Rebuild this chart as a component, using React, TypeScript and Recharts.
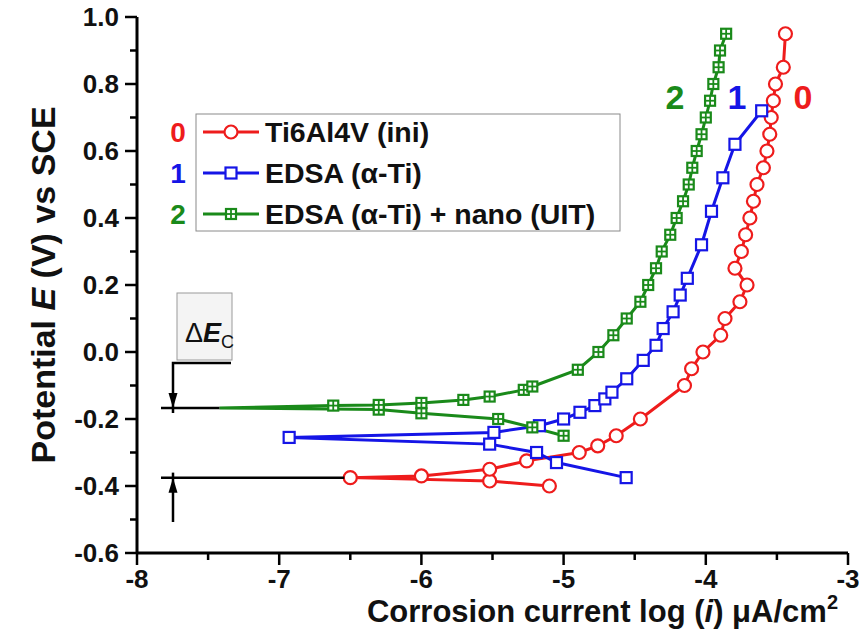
import React from 'react';
import { LineChart, Line, XAxis, YAxis } from 'recharts';

const ti64LogI = [-5.10, -5.52, -6.50, -6.00, -5.52, -5.26, -4.89, -4.76, -4.63, -4.46, -4.15, -4.10, -4.02, -3.895, -3.865, -3.76, -3.71, -3.795, -3.75, -3.72, -3.69, -3.665, -3.64, -3.595, -3.57, -3.55, -3.54, -3.525, -3.51, -3.455, -3.44];
const ti64E = [-0.40, -0.385, -0.375, -0.37, -0.35, -0.325, -0.30, -0.28, -0.25, -0.20, -0.10, -0.05, 0.0, 0.05, 0.10, 0.15, 0.20, 0.25, 0.30, 0.35, 0.40, 0.45, 0.50, 0.55, 0.60, 0.65, 0.70, 0.75, 0.80, 0.85, 0.95];

const edsaLogI = [-4.56, -5.05, -5.19, -5.52, -6.93, -5.49, -5.17, -5.00, -4.885, -4.78, -4.71, -4.66, -4.556, -4.44, -4.35, -4.30, -4.23, -4.18, -4.13, -4.03, -3.96, -3.88, -3.795, -3.607];
const edsaE = [-0.375, -0.33, -0.30, -0.275, -0.255, -0.24, -0.22, -0.20, -0.18, -0.16, -0.14, -0.12, -0.08, -0.025, 0.02, 0.07, 0.12, 0.17, 0.22, 0.32, 0.42, 0.52, 0.62, 0.72];

const nanoLogI = [-5.00, -5.22, -5.46, -6.00, -6.30, -7.42, -6.62, -6.30, -6.00, -5.705, -5.52, -5.28, -5.22, -4.90, -4.755, -4.65, -4.556, -4.46, -4.405, -4.35, -4.31, -4.25, -4.205, -4.16, -4.12, -4.095, -4.064, -4.03, -4.00, -3.97, -3.947, -3.91, -3.90, -3.857];
const nanoE = [-0.25, -0.225, -0.20, -0.183, -0.172, -0.167, -0.16, -0.158, -0.152, -0.143, -0.133, -0.113, -0.103, -0.053, 0.0, 0.05, 0.10, 0.15, 0.20, 0.25, 0.30, 0.35, 0.40, 0.45, 0.50, 0.55, 0.60, 0.65, 0.70, 0.75, 0.80, 0.85, 0.90, 0.95];

const X_TICKS = [-8, -7.5, -7, -6.5, -6, -5.5, -5, -4.5, -4, -3.5, -3];
const Y_TICKS = [-0.6, -0.5, -0.4, -0.3, -0.2, -0.1, 0, 0.1, 0.2, 0.3, 0.4, 0.5, 0.6, 0.7, 0.8, 0.9, 1.0];

const SERIES_NAMES = ['Ti6Al4V (ini)', 'EDSA (α-Ti)', 'EDSA (α-Ti) + nano (UIT)'];
const SERIES_TAGS = ['0', '1', '2'];

const RED = '#ee1c1c';
const BLUE = '#1515e6';
const GREEN = '#1a8a1a';
const FONT = '"Liberation Sans", Arial, sans-serif';

const W = 859;
const H = 640;
const M = { top: 17, right: 11, bottom: 87, left: 137 };
const X_DOMAIN: [number, number] = [-8, -3];
const Y_DOMAIN: [number, number] = [-0.6, 1.0];

const toPoints = (xs: number[], ys: number[]) => xs.map((x, i) => ({ x, y: ys[i] }));
const ti64 = toPoints(ti64LogI, ti64E);
const edsa = toPoints(edsaLogI, edsaE);
const nano = toPoints(nanoLogI, nanoE);

// pixel helpers for the overlay annotations
const px = (x: number) => M.left + ((x - X_DOMAIN[0]) / (X_DOMAIN[1] - X_DOMAIN[0])) * (W - M.left - M.right);
const py = (y: number) => M.top + ((Y_DOMAIN[1] - y) / (Y_DOMAIN[1] - Y_DOMAIN[0])) * (H - M.top - M.bottom);

const Circle = ({ cx, cy, color }: any) => (
  <circle cx={cx} cy={cy} r={6.5} fill="white" stroke={color} strokeWidth={2.2} />
);
const Square = ({ cx, cy, color }: any) => (
  <rect x={cx - 5.5} y={cy - 5.5} width={11} height={11} fill="white" stroke={color} strokeWidth={2.2} />
);
const Grid = ({ cx, cy, color }: any) => (
  <g>
    <rect x={cx - 5} y={cy - 5} width={10} height={10} fill="white" stroke={color} strokeWidth={2.2} />
    <line x1={cx - 5} x2={cx + 5} y1={cy} y2={cy} stroke={color} strokeWidth={1.8} />
    <line x1={cx} x2={cx} y1={cy - 5} y2={cy + 5} stroke={color} strokeWidth={1.8} />
  </g>
);

const XTick = ({ x, y, payload }: any) => {
  const v = payload.value;
  const major = Number.isInteger(v);
  return (
    <g>
      <line x1={x} x2={x} y1={y} y2={y + (major ? 12 : 7)} stroke="#000" strokeWidth={2.5} />
      {major && (
        <text x={x} y={y + 35} textAnchor="middle" fontSize={26} fontWeight="bold" fontFamily={FONT} fill="#111">
          {v}
        </text>
      )}
    </g>
  );
};

const YTick = ({ x, y, payload }: any) => {
  const v = payload.value;
  const major = Math.round(v * 10) % 2 === 0;
  return (
    <g>
      <line x1={x} x2={x - (major ? 12 : 7)} y1={y} y2={y} stroke="#000" strokeWidth={2.5} />
      {major && (
        <text x={x - 18} y={y + 9} textAnchor="end" fontSize={26} fontWeight="bold" fontFamily={FONT} fill="#111">
          {v.toFixed(1)}
        </text>
      )}
    </g>
  );
};

const LEGEND_MARKS = [Circle, Square, Grid];
const COLORS = [RED, BLUE, GREEN];

export default function App() {
  const xEcorr2 = nanoLogI[5];
  const eEcorr2 = nanoE[5];
  const xEcorr0 = ti64LogI[2];
  const eEcorr0 = ti64E[2];
  const arrowX = 173;

  return (
    <div style={{ position: 'relative', width: W, height: H, background: 'white' }}>
      <style>{`body { margin: 0; }`}</style>
      <LineChart width={W} height={H} margin={{ top: M.top, right: M.right, left: 0, bottom: 0 }}>
        <XAxis
          type="number"
          dataKey="x"
          domain={X_DOMAIN}
          ticks={X_TICKS}
          interval={0}
          height={M.bottom}
          tick={<XTick />}
          tickLine={false}
          tickSize={0}
          tickMargin={0}
          axisLine={{ stroke: '#000', strokeWidth: 3 }}
          allowDataOverflow
        />
        <YAxis
          type="number"
          dataKey="y"
          domain={Y_DOMAIN}
          ticks={Y_TICKS}
          interval={0}
          width={M.left}
          tick={<YTick />}
          tickLine={false}
          tickSize={0}
          tickMargin={0}
          axisLine={{ stroke: '#000', strokeWidth: 3 }}
          allowDataOverflow
        />
        <Line
          data={ti64}
          dataKey="y"
          stroke={RED}
          strokeWidth={3}
          isAnimationActive={false}
          dot={(p: any) => <Circle key={p.index} cx={p.cx} cy={p.cy} color={RED} />}
        />
        <Line
          data={edsa}
          dataKey="y"
          stroke={BLUE}
          strokeWidth={3}
          isAnimationActive={false}
          dot={(p: any) => <Square key={p.index} cx={p.cx} cy={p.cy} color={BLUE} />}
        />
        <Line
          data={nano}
          dataKey="y"
          stroke={GREEN}
          strokeWidth={3}
          isAnimationActive={false}
          dot={(p: any) =>
            p.index === 5 ? <g key={p.index} /> : <Grid key={p.index} cx={p.cx} cy={p.cy} color={GREEN} />
          }
        />
      </LineChart>

      <svg width={W} height={H} style={{ position: 'absolute', left: 0, top: 0, pointerEvents: 'none' }}>
        {/* axis titles */}
        <text
          transform={`translate(55, ${285}) rotate(-90)`}
          textAnchor="middle"
          fontSize={34}
          fontWeight="bold"
          fontFamily={FONT}
          fill="#111"
        >
          Potential <tspan fontStyle="italic">E</tspan> (V) vs SCE
        </text>
        <text x={838} y={622} textAnchor="end" fontSize={31} fontWeight="bold" fontFamily={FONT} fill="#111">
          Corrosion current log (<tspan fontStyle="italic">i</tspan>) μA/cm
          <tspan fontSize={20} dy={-13}>2</tspan>
        </text>

        {/* legend */}
        <rect x={196} y={114} width={424} height={117} fill="white" stroke="#8a8a8a" strokeWidth={1} />
        {SERIES_NAMES.map((name, i) => {
          const cy = 132 + i * 41;
          const Mark = LEGEND_MARKS[i];
          return (
            <g key={name}>
              <text x={178} y={cy + 10} textAnchor="middle" fontSize={28} fontWeight="bold" fontFamily={FONT} fill={COLORS[i]}>
                {SERIES_TAGS[i]}
              </text>
              <line x1={203} x2={259} y1={cy} y2={cy} stroke={COLORS[i]} strokeWidth={3} />
              <Mark cx={231} cy={cy} color={COLORS[i]} />
              <text x={265} y={cy + 10} fontSize={28.5} fontWeight="bold" fontFamily={FONT} fill="#111">
                {name}
              </text>
            </g>
          );
        })}

        {/* curve tags */}
        {[
          { t: '2', x: 675, c: GREEN },
          { t: '1', x: 737, c: BLUE },
          { t: '0', x: 803, c: RED },
        ].map((d) => (
          <text key={d.t} x={d.x} y={109} textAnchor="middle" fontSize={34} fontWeight="bold" fontFamily={FONT} fill={d.c}>
            {d.t}
          </text>
        ))}

        {/* delta E_c annotation */}
        <rect x={177} y={293} width={55} height={67} fill="#f4f4f4" stroke="#9a9a9a" strokeWidth={1} />
        <text x={185} y={342} fontSize={27} fontFamily={FONT} fill="#111">
          Δ<tspan fontWeight="bold" fontStyle="italic">E</tspan>
          <tspan fontSize={18} dy={6}>C</tspan>
        </text>
        <polyline points={`231,363 ${arrowX},363 ${arrowX},${py(eEcorr2) + 5}`} fill="none" stroke="#000" strokeWidth={2.5} />
        <polygon
          points={`${arrowX},${py(eEcorr2)} ${arrowX - 4.5},${py(eEcorr2) - 15} ${arrowX + 4.5},${py(eEcorr2) - 15}`}
          fill="#000"
        />
        <line x1={161} x2={px(xEcorr2)} y1={py(eEcorr2)} y2={py(eEcorr2)} stroke="#000" strokeWidth={2.5} />
        <line x1={161} x2={px(xEcorr0) - 6} y1={py(eEcorr0)} y2={py(eEcorr0)} stroke="#000" strokeWidth={2.5} />
        <line x1={arrowX} x2={arrowX} y1={py(eEcorr0) - 5} y2={522} stroke="#000" strokeWidth={2.5} />
        <polygon
          points={`${arrowX},${py(eEcorr0)} ${arrowX - 4.5},${py(eEcorr0) + 15} ${arrowX + 4.5},${py(eEcorr0) + 15}`}
          fill="#000"
        />
      </svg>
    </div>
  );
}
